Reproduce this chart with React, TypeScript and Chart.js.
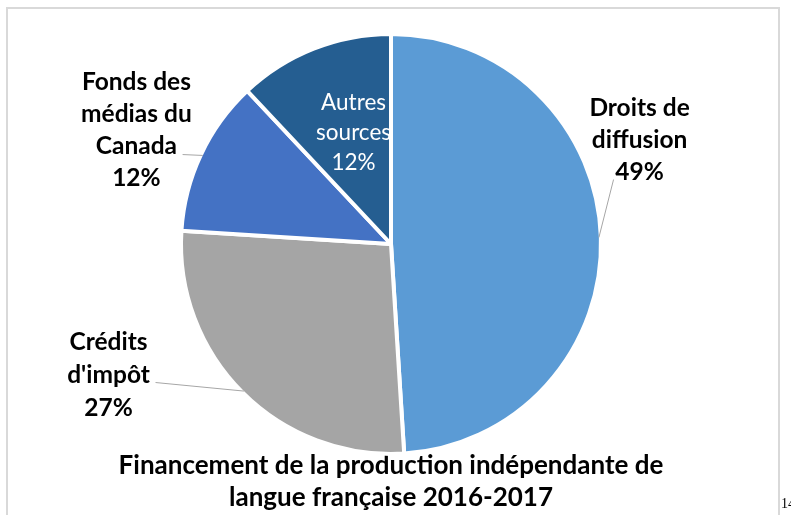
import React, { useEffect, useRef } from "react";
import { Chart, registerables } from "chart.js";

Chart.register(...registerables);

// ---- data ----
const categories = ["Droits de diffusion", "Crédits d'impôt", "Fonds des médias du Canada", "Autres sources"];
const shares = [49, 27, 12, 12];
const labelLines = [["Droits de", "diffusion"], ["Crédits", "d'impôt"], ["Fonds des", "médias du", "Canada"], ["Autres", "sources"]];
const titleLines = ["Financement de la production indépendante de", "langue française 2016-2017"];
const pageNumber = "14";

// ---- style ----
const sliceColors = ["#5B9BD5", "#A5A5A5", "#4472C4", "#255E91"];
const FONT = "Lato, 'Open Sans', sans-serif";
const BORDER = 4;

// label placement relative to pie centre, in units of the visible radius
const placements = [
  { dx: 1.195, dy: -0.5, lead: [1.07, -0.31], color: "#000", weight: "bold", size: 24.5, lh: 32, inside: false },
  { dx: -1.358, dy: 0.63, lead: [-1.132, 0.666], color: "#000", weight: "bold", size: 24.5, lh: 33, inside: false },
  { dx: -1.224, dy: -0.546, lead: [-1.002, -0.43], color: "#000", weight: "bold", size: 24.5, lh: 32, inside: false },
  { dx: -0.18, dy: -0.536, lead: null, color: "#fff", weight: "normal", size: 22.5, lh: 30, inside: true },
];

const labelPlugin = {
  id: "sliceLabels",
  afterDatasetsDraw(chart: any) {
    const ctx = chart.ctx;
    const meta = chart.getDatasetMeta(0);
    meta.data.forEach((arc: any, i: number) => {
      const p = placements[i];
      const { x, y, outerRadius, startAngle, endAngle } = arc.getProps(
        ["x", "y", "outerRadius", "startAngle", "endAngle"],
        true
      );
      const r = outerRadius - BORDER / 2;
      const mid = (startAngle + endAngle) / 2;
      const lx = x + p.dx * r;
      const ly = y + p.dy * r;
      ctx.save();
      if (p.lead) {
        ctx.strokeStyle = "#A6A6A6";
        ctx.lineWidth = 1;
        ctx.beginPath();
        ctx.moveTo(x + p.lead[0] * r, y + p.lead[1] * r);
        ctx.lineTo(x + Math.cos(mid) * r, y + Math.sin(mid) * r);
        ctx.stroke();
      }
      if (p.inside) {
        ctx.beginPath();
        ctx.moveTo(x, y);
        ctx.arc(x, y, r, startAngle, endAngle);
        ctx.closePath();
        ctx.clip();
      }
      const lines = [...labelLines[i], shares[i] + "%"];
      ctx.font = `${p.weight} ${p.size}px ${FONT}`;
      ctx.fillStyle = p.color;
      ctx.textAlign = "center";
      ctx.textBaseline = "middle";
      const top = ly - ((lines.length - 1) * p.lh) / 2;
      lines.forEach((t, k) => ctx.fillText(t, lx, top + k * p.lh));
      ctx.restore();
    });
  },
};

export default function App() {
  const ref = useRef<HTMLCanvasElement>(null);
  useEffect(() => {
    if (!ref.current) return;
    const chart = new Chart(ref.current, {
      type: "pie",
      data: {
        labels: categories,
        datasets: [
          {
            data: shares,
            backgroundColor: sliceColors,
            borderColor: "#ffffff",
            borderWidth: BORDER,
          },
        ],
      },
      options: {
        responsive: false,
        animation: false,
        radius: 210,
        layout: { padding: { top: 38.5, bottom: 1.5, left: 0, right: 9 } },
        plugins: {
          legend: { display: false },
          tooltip: { enabled: false },
          title: {
            display: true,
            position: "bottom",
            text: titleLines,
            color: "#000",
            padding: 0,
            font: { family: FONT, size: 26, weight: "bold", lineHeight: "32px" },
          },
        },
      } as any,
      plugins: [labelPlugin],
    });
    return () => chart.destroy();
  }, []);

  return (
    <div style={{ position: "absolute", left: 0, top: 0, width: 791, height: 515, overflow: "hidden", background: "#fff" }}>
      <div
        style={{
          position: "absolute",
          left: 6,
          top: 7,
          width: 774,
          height: 600,
          boxSizing: "border-box",
          border: "2px solid #D9D9D9",
        }}
      />
      <canvas ref={ref} width={791} height={515} style={{ position: "absolute", left: 0, top: 0 }} />
      <span
        style={{
          position: "absolute",
          left: 781,
          top: 496,
          fontFamily: "'Liberation Serif', 'Times New Roman', serif",
          fontSize: 14,
          lineHeight: "16px",
          color: "#000",
          whiteSpace: "nowrap",
        }}
      >
        {pageNumber}
      </span>
    </div>
  );
}
